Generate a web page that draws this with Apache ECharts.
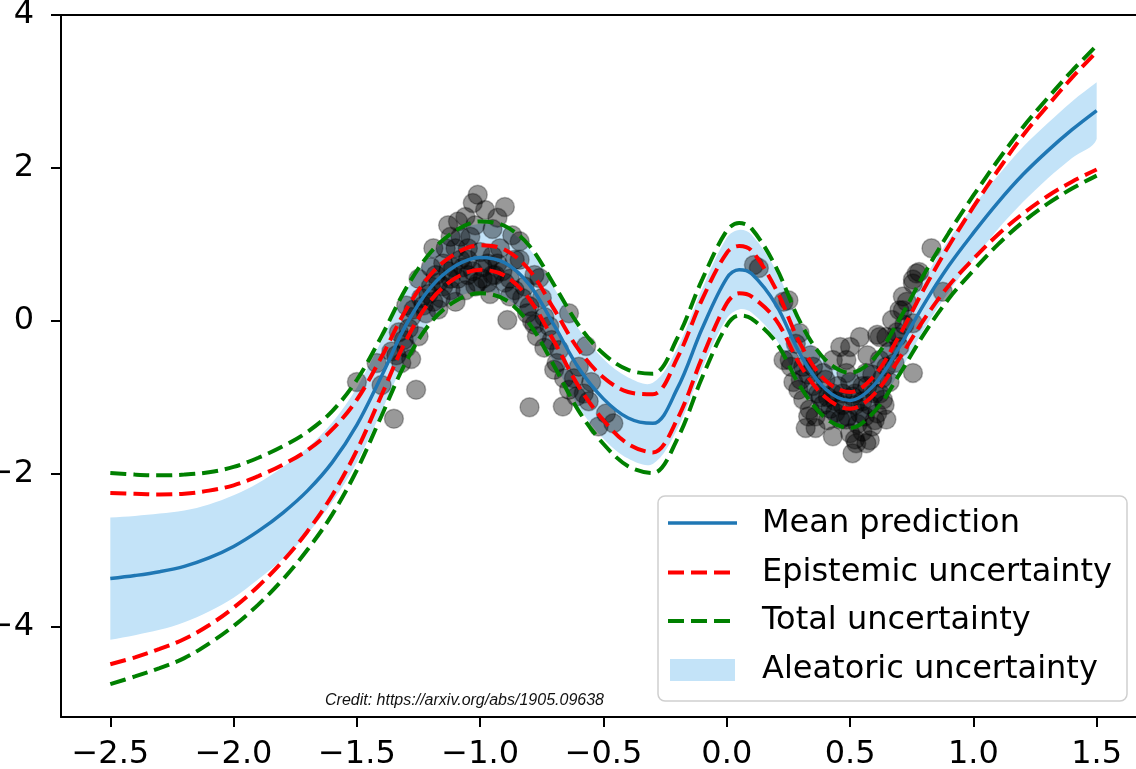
<!DOCTYPE html>
<html>
<head>
<meta charset="utf-8">
<script src="https://cdn.jsdelivr.net/npm/echarts@6/dist/echarts.min.js"></script>
<style>
    html, body { margin: 0; padding: 0; background: #fff; overflow: hidden; }
    #main { width: 1136px; height: 769px; }
</style>
</head>
<body>
<div id="main"></div>
<script>
    // x positions of the curves (extra reading at the apex of the second hump)
    var xs = [-2.5, -2.4, -2.3, -2.2, -2.1, -2.0, -1.9, -1.8, -1.7, -1.6, -1.5, -1.4, -1.3, -1.2, -1.1, -1.0, -0.9, -0.8, -0.7, -0.6,
        -0.5, -0.4, -0.3, -0.2, -0.1, 0.0, 0.05, 0.1, 0.2, 0.3, 0.4, 0.5, 0.6, 0.7, 0.8, 0.9, 1.0, 1.1, 1.2, 1.3, 1.4, 1.5];
    var meanPred = [-3.37, -3.33, -3.28, -3.21, -3.10, -2.95, -2.75, -2.51, -2.22, -1.85, -1.36, -0.72, -0.05, 0.44, 0.72, 0.83, 0.76, 0.47, -0.06, -0.62,
        -1.02, -1.27, -1.34, -0.88, -0.10, 0.56, 0.67, 0.62, 0.21, -0.45, -0.89, -1.04, -0.83, -0.34, 0.22, 0.72, 1.15, 1.55, 1.91, 2.22, 2.50, 2.75];
    // aleatoric band
    var aleaLow = [-4.17, -4.11, -4.04, -3.94, -3.80, -3.62, -3.38, -3.11, -2.78, -2.37, -1.85, -1.18, -0.49, 0.01, 0.29, 0.39, 0.31, 0.00, -0.55, -1.13,
        -1.54, -1.80, -1.87, -1.41, -0.62, 0.03, 0.15, 0.11, -0.24, -0.85, -1.25, -1.38, -1.16, -0.67, -0.11, 0.38, 0.80, 1.20, 1.55, 1.86, 2.13, 2.38];
    var aleaHigh = [-2.57, -2.55, -2.52, -2.48, -2.40, -2.28, -2.12, -1.91, -1.66, -1.33, -0.87, -0.26, 0.39, 0.87, 1.15, 1.27, 1.21, 0.94, 0.43, -0.11,
        -0.50, -0.74, -0.81, -0.35, 0.42, 1.09, 1.19, 1.13, 0.66, -0.05, -0.53, -0.70, -0.50, -0.01, 0.55, 1.06, 1.50, 1.90, 2.27, 2.58, 2.87, 3.12];
    // epistemic (red dashed)
    var epiLow = [-4.49, -4.40, -4.29, -4.16, -3.98, -3.75, -3.47, -3.14, -2.75, -2.28, -1.69, -0.97, -0.25, 0.27, 0.56, 0.67, 0.59, 0.28, -0.27, -0.86,
        -1.30, -1.61, -1.72, -1.28, -0.48, 0.23, 0.36, 0.32, 0.01, -0.59, -1.00, -1.15, -0.95, -0.49, 0.02, 0.46, 0.81, 1.13, 1.40, 1.63, 1.82, 1.98];
    var epiHigh = [-2.25, -2.26, -2.27, -2.26, -2.22, -2.15, -2.03, -1.88, -1.69, -1.42, -1.03, -0.47, 0.15, 0.61, 0.88, 0.99, 0.93, 0.66, 0.15, -0.38,
        -0.74, -0.93, -0.96, -0.48, 0.28, 0.89, 0.98, 0.92, 0.41, -0.31, -0.78, -0.93, -0.71, -0.19, 0.42, 0.98, 1.49, 1.97, 2.42, 2.81, 3.18, 3.52];
    // total (green dashed)
    var totLow = [-4.75, -4.65, -4.54, -4.41, -4.22, -3.99, -3.71, -3.38, -2.99, -2.53, -1.95, -1.24, -0.53, -0.02, 0.26, 0.36, 0.28, -0.04, -0.59, -1.18,
        -1.61, -1.90, -1.99, -1.54, -0.74, -0.06, 0.07, 0.03, -0.28, -0.87, -1.27, -1.40, -1.18, -0.70, -0.17, 0.29, 0.66, 1.00, 1.29, 1.53, 1.73, 1.90];
    var totHigh = [-1.99, -2.01, -2.02, -2.01, -1.98, -1.91, -1.79, -1.64, -1.45, -1.18, -0.77, -0.20, 0.43, 0.90, 1.18, 1.30, 1.24, 0.98, 0.47, -0.06,
        -0.43, -0.64, -0.69, -0.22, 0.54, 1.18, 1.28, 1.21, 0.70, -0.03, -0.51, -0.68, -0.48, 0.02, 0.61, 1.15, 1.64, 2.10, 2.53, 2.91, 3.27, 3.60];
    // observed points
    var obsPoints = [
        [-1.50, -0.80], [-1.40, -0.84], [-1.35, -1.28], [-1.26, -0.90], [-1.42, -0.55], [-1.36, -0.40], [-1.33, -0.15], [-1.30, -0.35],
        [-1.28, 0.05], [-1.25, -0.20], [-1.30, 0.20], [-1.24, 0.30], [-1.22, 0.10], [-1.20, 0.45], [-1.19, 0.95], [-1.18, 0.60],
        [-1.16, 0.30], [-1.15, 0.75], [-1.13, 1.25], [-1.12, 0.55], [-1.10, 0.95], [-1.08, 0.80], [-1.06, 1.36], [-1.05, 0.60],
        [-1.04, 1.10], [-1.03, 1.54], [-1.01, 1.65], [-1.00, 0.90], [-0.99, 0.55], [-0.98, 1.45], [-0.97, 0.75], [-0.95, 1.20],
        [-0.94, 0.60], [-0.92, 0.95], [-0.90, 1.49], [-0.90, 0.50], [-0.89, 0.01], [-0.88, 0.32], [-0.87, 1.12], [-0.86, 0.80],
        [-0.84, 1.04], [-0.84, 0.80], [-0.82, 0.45], [-0.80, 0.19], [-0.80, -1.13], [-0.78, 0.60], [-0.76, 0.56], [-0.75, 0.30],
        [-0.72, -0.07], [-0.71, -0.25], [-0.70, -0.64], [-0.68, -0.38], [-0.665, -1.12], [-0.64, 0.10], [-0.64, -0.90], [-0.61, -0.99],
        [-0.60, -0.60], [-0.57, -0.33], [-0.55, -0.80], [-0.52, -1.38], [-0.49, -1.21], [-0.46, -1.34], [-1.02, 0.45], [-1.06, 0.40],
        [-1.10, 0.25], [-0.96, 0.35], [-1.14, 0.95], [-1.20, 0.70], [-1.12, 0.40], [-1.05, 0.95], [-0.95, 0.85], [-1.08, 1.10],
        [-1.17, 0.15], [-1.25, 0.55], [-1.32, -0.55], [-1.28, -0.50], [-0.78, -0.05], [-0.74, 0.05],
        [-1.34, -0.45], [-1.31, -0.25], [-1.29, -0.10], [-1.27, 0.15], [-1.23, 0.20], [-1.21, 0.35], [-1.19, 0.25], [-1.17, 0.50],
        [-1.15, 0.45], [-1.13, 0.65], [-1.11, 0.70], [-1.09, 0.55], [-1.07, 0.70], [-1.05, 0.80], [-1.03, 0.65], [-1.01, 0.50],
        [-0.99, 0.70], [-0.97, 0.50], [-0.95, 0.60], [-0.93, 0.75], [-0.91, 0.65], [-0.88, 0.55], [-0.86, 0.40], [-0.83, 0.30],
        [-0.81, 0.10], [-0.79, 0.00], [-0.77, -0.20], [-0.74, -0.35], [-0.69, -0.55], [-0.66, -0.75], [-0.62, -0.75], [-0.58, -0.95],
        [-0.56, -1.05], [-1.12, 1.10], [-1.02, 1.25], [-0.93, 1.35], [-1.09, 1.30],
        [0.11, 0.73], [0.13, 0.69], [0.23, 0.25], [0.25, 0.27], [0.23, -0.51], [0.255, -0.51], [0.27, -0.80], [0.295, -0.16],
        [0.30, -0.77], [0.31, -1.03], [0.32, -1.40], [0.336, -1.16], [0.36, -1.25], [0.39, -0.68], [0.40, -0.77], [0.43, -0.51],
        [0.43, -0.95], [0.43, -1.51], [0.46, -0.34], [0.46, -1.29], [0.485, -0.51], [0.485, -0.68], [0.485, -1.29], [0.50, -0.34],
        [0.50, -1.47], [0.51, -0.99], [0.51, -1.73], [0.525, -1.60], [0.54, -0.21], [0.54, -1.21], [0.565, -0.68], [0.566, -1.60],
        [0.58, -1.56], [0.59, -1.38], [0.61, -0.18], [0.61, -1.21], [0.62, -0.51], [0.62, -0.21], [0.633, -1.03], [0.647, -0.60],
        [0.647, -1.29], [0.647, -0.21], [0.67, 0.01], [0.69, -0.21], [0.70, 0.14], [0.70, -0.34], [0.714, 0.32], [0.714, 0.14],
        [0.755, 0.54], [0.755, 0.49], [0.755, -0.68], [0.755, -0.03], [0.77, 0.62], [0.78, 0.64], [0.83, 0.95], [0.876, 0.38],
        [0.45, -0.85], [0.55, -0.85], [0.35, -0.60], [0.38, -1.00], [0.60, -0.95], [0.52, -1.10], [0.42, -1.15], [0.57, -0.45],
        [0.66, -0.80], [0.28, -0.30], [0.34, -0.45],
        [0.33, -0.70], [0.35, -0.85], [0.37, -0.95], [0.39, -1.10], [0.41, -1.00], [0.41, -1.30], [0.44, -1.05], [0.44, -1.20],
        [0.47, -0.95], [0.47, -1.10], [0.49, -1.25], [0.50, -0.80], [0.52, -0.95], [0.53, -1.35], [0.55, -1.05], [0.56, -1.25],
        [0.57, -0.85], [0.58, -1.10], [0.59, -0.70], [0.60, -1.30], [0.62, -0.95], [0.63, -0.75], [0.64, -1.10], [0.66, -0.40],
        [0.68, -0.55], [0.69, -0.15], [0.72, -0.05], [0.73, 0.25], [0.26, -0.60], [0.29, -0.90], [0.31, -0.60], [0.33, -1.25],
        [0.36, -1.40], [0.52, -1.55], [0.55, -1.45]
    ];
    var xTicks = [-2.5, -2.0, -1.5, -1.0, -0.5, 0.0, 0.5, 1.0, 1.5];
    var yTicks = [-4, -2, 0, 2, 4];

    var bandColor = '#c3e3f8';
    var font = 'DejaVu Sans';
    var smoothness = 0.35;

    function pairs(ys) {
        var out = [];
        for (var i = 0; i < xs.length; i++) {
            out.push([xs[i], ys[i]]);
        }
        return out;
    }
    function minusFmt(v, digits) {
        var s = Math.abs(v).toFixed(digits);
        return v < 0 ? '\u2212' + s : s;
    }
    function dashLine(name, ys, color) {
        return {
            name: name, type: 'line', data: pairs(ys), smooth: smoothness, symbol: 'none', silent: true, z: 4,
            lineStyle: { color: color, width: 4, type: [16, 7], cap: 'butt' }
        };
    }
    // aleatoric band as one closed shape; end corners doubled so they stay sharp
    function renderBand(params, api) {
        var pts = [];
        var n = xs.length;
        for (var i = 0; i < n; i++) {
            pts.push(api.coord([xs[i], aleaHigh[i]]));
        }
        pts.push(api.coord([xs[n - 1], aleaHigh[n - 1]]));
        for (var j = n - 1; j >= 0; j--) {
            pts.push(api.coord([xs[j], aleaLow[j]]));
        }
        pts.push(api.coord([xs[0], aleaLow[0]]));
        pts.push(api.coord([xs[0], aleaHigh[0]]));
        return {
            type: 'polygon',
            shape: { points: pts, smooth: smoothness, smoothConstraint: [pts[0], pts[0]] },
            style: { fill: bandColor }
        };
    }

    var chart = echarts.init(document.getElementById('main'), null, { renderer: 'canvas' });

    var option = {
        animation: false,
        backgroundColor: '#fff',
        grid: { left: 61, top: 15, width: 1085, height: 702, show: false, outerBoundsMode: 'none', containLabel: false },
        xAxis: [{
            type: 'value', min: -2.7, max: 1.7, z: 10,
            axisLine: { show: true, onZero: false, lineStyle: { color: '#000', width: 2 } },
            axisTick: { show: true, length: 10, lineStyle: { color: '#000', width: 2 }, customValues: xTicks },
            axisLabel: {
                color: '#000', fontSize: 32, fontFamily: font, margin: 22, customValues: xTicks,
                formatter: function (v) { return minusFmt(v, 1); }
            },
            splitLine: { show: false }
        }, {
            type: 'value', position: 'top', min: -2.7, max: 1.7, z: 10,
            axisLine: { show: true, onZero: false, lineStyle: { color: '#000', width: 2 } },
            axisTick: { show: false }, axisLabel: { show: false }, splitLine: { show: false }
        }],
        yAxis: {
            type: 'value', min: -5.18, max: 4.0, z: 10,
            axisLine: { show: true, onZero: false, lineStyle: { color: '#000', width: 2 } },
            axisTick: { show: true, length: 10, lineStyle: { color: '#000', width: 2 }, customValues: yTicks },
            axisLabel: {
                color: '#000', fontSize: 32, fontFamily: font, margin: 27, customValues: yTicks,
                formatter: function (v) { return minusFmt(v, 0); }
            },
            splitLine: { show: false }
        },
        series: [
            {
                name: 'Aleatoric uncertainty', type: 'custom', renderItem: renderBand, silent: true, z: 1, clip: true,
                data: [[xs[0], aleaLow[0]]]
            },
            {
                name: 'data', type: 'scatter', data: obsPoints, symbolSize: 19, silent: true, z: 3,
                itemStyle: { color: 'rgba(0,0,0,0.5)', borderColor: 'rgba(0,0,0,0.35)', borderWidth: 1.5 }
            },
            {
                name: 'Mean prediction', type: 'line', data: pairs(meanPred), smooth: smoothness, symbol: 'none', silent: true, z: 4,
                lineStyle: { color: '#1f77b4', width: 3.5 }
            },
            dashLine('Epistemic high', epiHigh, '#ff0000'),
            dashLine('Epistemic low', epiLow, '#ff0000'),
            dashLine('Total high', totHigh, '#008000'),
            dashLine('Total low', totLow, '#008000')
        ],
        graphic: [
            {
                type: 'rect', z: 100, shape: { x: 658, y: 496, width: 469, height: 205, r: 7 },
                style: { fill: 'rgba(255,255,255,0.85)', stroke: '#cfcfcf', lineWidth: 1.5 }
            },
            { type: 'line', z: 101, shape: { x1: 668, y1: 523, x2: 737, y2: 523 }, style: { stroke: '#1f77b4', lineWidth: 3.5 } },
            { type: 'line', z: 101, shape: { x1: 668, y1: 572.5, x2: 737, y2: 572.5 }, style: { stroke: '#ff0000', lineWidth: 4, lineDash: [16, 7] } },
            { type: 'line', z: 101, shape: { x1: 668, y1: 621, x2: 737, y2: 621 }, style: { stroke: '#008000', lineWidth: 4, lineDash: [16, 7] } },
            { type: 'rect', z: 101, shape: { x: 670, y: 659, width: 65, height: 22 }, style: { fill: bandColor } },
            { type: 'text', z: 101, x: 762, y: 524, style: { text: 'Mean prediction', font: '32px "DejaVu Sans"', fill: '#000', verticalAlign: 'middle' } },
            { type: 'text', z: 101, x: 762, y: 572.5, style: { text: 'Epistemic uncertainty', font: '32px "DejaVu Sans"', fill: '#000', verticalAlign: 'middle' } },
            { type: 'text', z: 101, x: 762, y: 621, style: { text: 'Total uncertainty', font: '32px "DejaVu Sans"', fill: '#000', verticalAlign: 'middle' } },
            { type: 'text', z: 101, x: 762, y: 669.5, style: { text: 'Aleatoric uncertainty', font: '32px "DejaVu Sans"', fill: '#000', verticalAlign: 'middle' } },
            { type: 'text', z: 101, x: 325, y: 701, style: { text: 'Credit: https://arxiv.org/abs/1905.09638', font: 'italic 16px "Liberation Sans"', fill: '#111', verticalAlign: 'middle' } }
        ]
    };
    chart.setOption(option);
</script>
</body>
</html>
